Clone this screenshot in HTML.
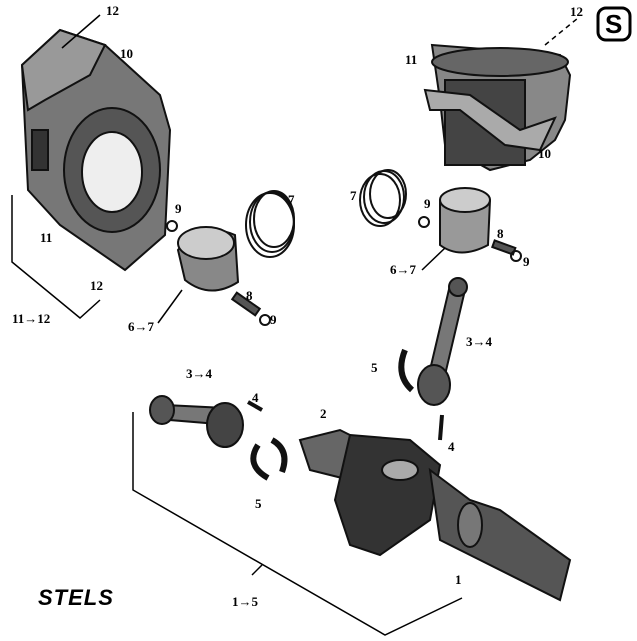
<!DOCTYPE html>
<html><head><meta charset="utf-8"><style>
html,body{margin:0;padding:0;background:#fff;}
svg{display:block}
text{font-family:"Liberation Serif",serif;font-size:13px;fill:#000;font-weight:bold}
</style></head><body>
<svg width="637" height="641" viewBox="0 0 637 641" xmlns="http://www.w3.org/2000/svg">
<rect width="637" height="641" fill="#fff"/>
<!-- left cylinder block -->
<g stroke="#111" stroke-width="2">
<polygon points="22,65 60,30 105,45 160,95 170,130 165,235 125,270 60,225 28,190" fill="#777"/>
<polygon points="22,65 60,30 105,45 90,75 45,100 28,110" fill="#999"/>
<ellipse cx="112" cy="170" rx="48" ry="62" fill="#555"/>
<ellipse cx="112" cy="172" rx="30" ry="40" fill="#eee"/>
<rect x="32" y="130" width="16" height="40" fill="#333"/>
</g>
<!-- right cylinder -->
<g stroke="#111" stroke-width="2">
<polygon points="432,45 560,55 570,75 565,120 555,140 530,160 490,170 445,145 440,100" fill="#888"/>
<ellipse cx="500" cy="62" rx="68" ry="14" fill="#666"/>
<rect x="445" y="80" width="80" height="85" fill="#444"/>
<polygon points="425,90 470,95 520,130 555,118 540,150 505,145 460,110 430,110" fill="#aaa"/>
</g>
<!-- piston left -->
<g stroke="#111" stroke-width="2">
<ellipse cx="270" cy="225" rx="24" ry="32" fill="none"/>
<ellipse cx="272" cy="222" rx="22" ry="30" fill="none"/>
<ellipse cx="274" cy="219" rx="20" ry="28" fill="none"/>
<path d="M178,250 Q200,220 235,235 L238,282 Q210,300 185,280 Z" fill="#888"/>
<ellipse cx="206" cy="243" rx="28" ry="16" fill="#ccc"/>
<rect x="232" y="300" width="28" height="8" fill="#555" transform="rotate(35 246 304)"/>
<circle cx="172" cy="226" r="5" fill="none"/>
<circle cx="265" cy="320" r="5" fill="none"/>
</g>
<!-- piston right -->
<g stroke="#111" stroke-width="2">
<ellipse cx="380" cy="200" rx="20" ry="26" fill="none"/>
<ellipse cx="384" cy="197" rx="20" ry="26" fill="none"/>
<ellipse cx="388" cy="194" rx="18" ry="24" fill="none"/>
<path d="M440,200 Q465,185 490,200 L488,245 Q460,260 440,245 Z" fill="#999"/>
<ellipse cx="465" cy="200" rx="25" ry="12" fill="#ccc"/>
<rect x="493" y="244" width="22" height="7" fill="#555" transform="rotate(20 504 247)"/>
<circle cx="424" cy="222" r="5" fill="none"/>
<circle cx="516" cy="256" r="5" fill="none"/>
</g>
<!-- connecting rod right -->
<g stroke="#111" stroke-width="2">
<polygon points="450,285 465,290 445,375 430,370" fill="#777"/>
<circle cx="458" cy="287" r="9" fill="#555"/>
<ellipse cx="434" cy="385" rx="16" ry="20" fill="#555"/>
<path d="M405,350 Q395,375 412,390" fill="none" stroke-width="6"/>
<line x1="442" y1="415" x2="440" y2="440" stroke-width="4"/>
</g>
<!-- connecting rod left -->
<g stroke="#111" stroke-width="2">
<polygon points="165,405 225,408 230,425 170,420" fill="#777"/>
<ellipse cx="162" cy="410" rx="12" ry="14" fill="#555"/>
<ellipse cx="225" cy="425" rx="18" ry="22" fill="#444"/>
<line x1="248" y1="402" x2="262" y2="410" stroke-width="4"/>
<path d="M258,445 Q245,465 268,478" fill="none" stroke-width="6"/>
<path d="M272,440 Q290,450 282,472" fill="none" stroke-width="6"/>
</g>
<!-- crankshaft -->
<g stroke="#111" stroke-width="2">
<polygon points="300,440 340,430 360,440 350,480 310,470" fill="#666"/>
<polygon points="350,435 410,440 440,465 430,520 380,555 350,545 335,500" fill="#333"/>
<polygon points="430,470 470,500 500,510 570,560 560,600 480,560 440,540" fill="#555"/>
<ellipse cx="400" cy="470" rx="18" ry="10" fill="#aaa"/>
<ellipse cx="470" cy="525" rx="12" ry="22" fill="#777"/>
</g>
<!-- leaders -->
<g stroke="#000" stroke-width="1.5" fill="none">
<line x1="100" y1="15" x2="62" y2="48"/>
<line x1="545" y1="45" x2="578" y2="18" stroke-dasharray="5,4"/>
<polyline points="12,195 12,262 80,318 100,300"/>
<polyline points="133,412 133,490 385,635 462,598"/>
<line x1="158" y1="323" x2="182" y2="290"/>
<line x1="422" y1="270" x2="445" y2="248"/>
<line x1="252" y1="575" x2="262" y2="565"/>
</g>
<text x="106" y="15">12</text>
<text x="120" y="58">10</text>
<text x="40" y="242">11</text>
<text x="90" y="290">12</text>
<text x="12" y="323">11→12</text>
<text x="175" y="213">9</text>
<text x="288" y="204">7</text>
<text x="128" y="331">6→7</text>
<text x="246" y="300">8</text>
<text x="270" y="324">9</text>
<text x="570" y="16">12</text>
<text x="405" y="64">11</text>
<text x="538" y="158">10</text>
<text x="350" y="200">7</text>
<text x="424" y="208">9</text>
<text x="497" y="238">8</text>
<text x="523" y="266">9</text>
<text x="390" y="274">6→7</text>
<text x="466" y="346">3→4</text>
<text x="371" y="372">5</text>
<text x="186" y="378">3→4</text>
<text x="252" y="402">4</text>
<text x="320" y="418">2</text>
<text x="448" y="451">4</text>
<text x="255" y="508">5</text>
<text x="455" y="584">1</text>
<text x="232" y="606">1→5</text>
<text x="38" y="605" style="font-family:'Liberation Sans',sans-serif;font-style:italic;font-size:22px;font-weight:bold;letter-spacing:1px">STELS</text>
<rect x="598" y="8" width="32" height="32" rx="8" fill="#fff" stroke="#000" stroke-width="3"/>
<text x="605" y="33" style="font-family:'Liberation Sans',sans-serif;font-size:26px;font-weight:bold">S</text>
</svg>
</body></html>
